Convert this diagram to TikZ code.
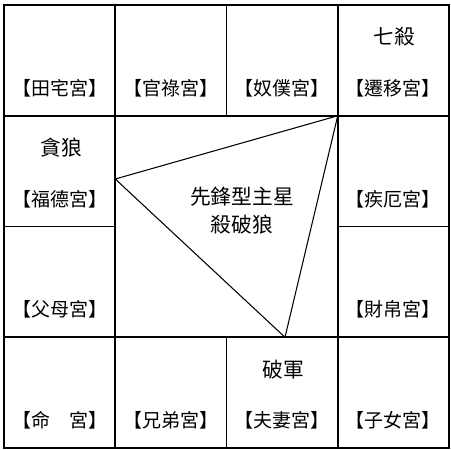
\documentclass[tikz,border=0pt]{standalone}
\usepackage{fontspec}
\newfontfamily\cjk{Noto Sans CJK TC}
\begin{document}
\begin{tikzpicture}[x=0.02cm, y=-0.02cm, font=\cjk\fontsize{10.8}{14.2}\selectfont, cell/.style={draw, line width=1pt, minimum width=2.225cm, minimum height=2.215cm, outer sep=0pt, inner sep=0pt}, star/.style={font=\cjk\fontsize{11.8}{16}\selectfont}, every node/.style={inner sep=0pt}, line join=miter]
	\useasboundingbox (0,0) rectangle (450,450);

	% Hàng trên
	\node[cell] (tianzhai) at (59.6, 60.4) {};
	\node[cell] (guanlu) at (170.9, 60.4) {};
	\node[cell] (nupu) at (282.1, 60.4) {};
	\node[cell] (qianyi) at (393.4, 60.4) {};
	% Cột trái, cột phải
	\node[cell] (fude) at (59.6, 171.1) {};
	\node[cell] (fumu) at (59.6, 281.9) {};
	\node[cell] (jie) at (393.4, 171.1) {};
	\node[cell] (caibo) at (393.4, 281.9) {};
	% Hàng dưới
	\node[cell] (ming) at (59.6, 392.6) {};
	\node[cell] (xiongdi) at (170.9, 392.6) {};
	\node[cell] (fuqi) at (282.1, 392.6) {};
	\node[cell] (zinu) at (393.4, 392.6) {};
	% Ô giữa
	\node[cell, minimum width=4.45cm, minimum height=4.43cm] (zhong) at (226.5, 226.5) {};

	\node (tianzhaiT) at (59.6, 88) {【田宅宮】};
	\node (guanluT) at (170.9, 88) {【官祿宮】};
	\node (nupuT) at (282.1, 88) {【奴僕宮】};
	\node (qianyiT) at (393.4, 88) {【遷移宮】};
	\node (fudeT) at (59.6, 198.8) {【福德宮】};
	\node (jieT) at (393.4, 198.8) {【疾厄宮】};
	\node (fumuT) at (59.6, 309.5) {【父母宮】};
	\node (caiboT) at (393.4, 309.5) {【財帛宮】};
	\node (mingT) at (59.6, 420.3) {【命　宮】};
	\node (xiongdiT) at (170.9, 420.3) {【兄弟宮】};
	\node (fuqiT) at (282.1, 420.3) {【夫妻宮】};
	\node (zinuT) at (393.4, 420.3) {【子女宮】};

	% Chính tinh
	\node[star] (qisha) at (394.5, 37) {七殺};
	\node[star] (tanlang) at (61, 147.8) {貪狼};
	\node[star] (pojun) at (283.5, 369.3) {破軍};
	\node[star, align=center] (xianfeng) at (242, 211) {先鋒型主星\\殺破狼};

	% Tam giác
	\coordinate (lang) at (115.25, 179);
	\coordinate (sha) at (zhong.north east);
	\coordinate (po) at (285, 337.25);
	\draw[line width=0.6pt] (lang) -- (sha) -- (po) -- cycle;
\end{tikzpicture}
\end{document}
